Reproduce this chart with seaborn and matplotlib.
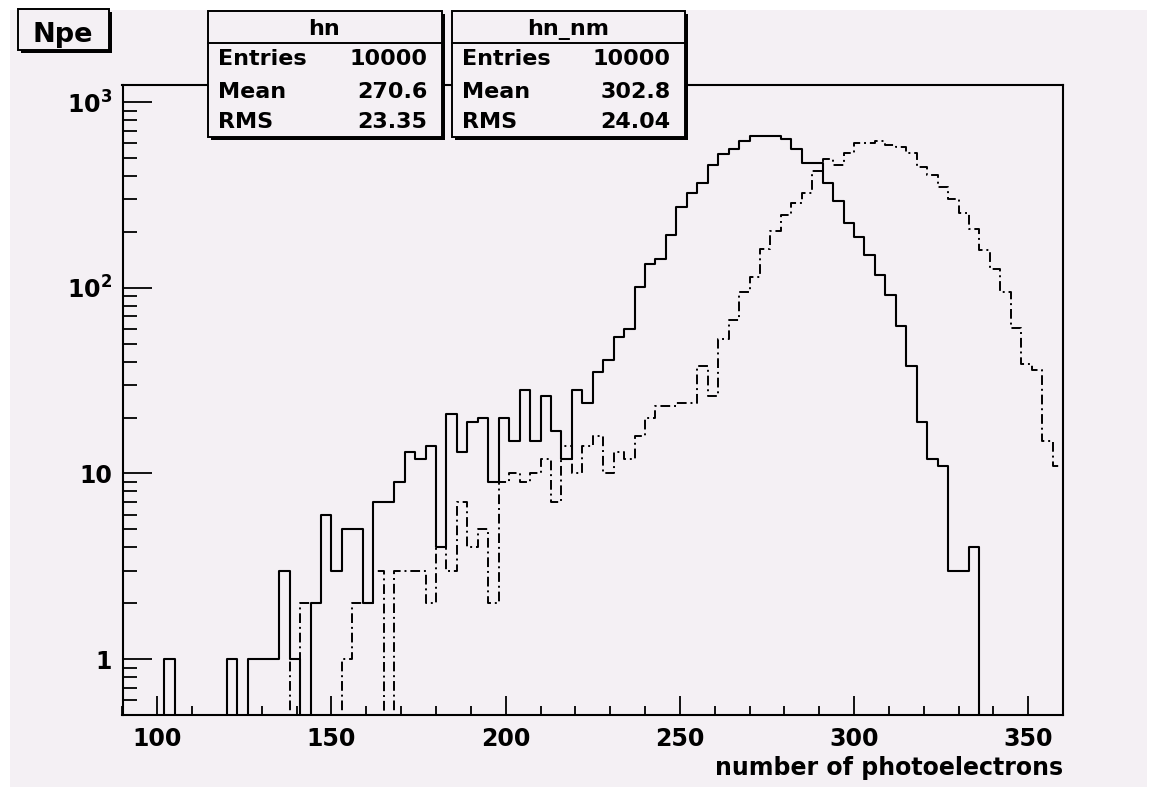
import numpy as np
import pandas as pd
import matplotlib
matplotlib.use("Agg")
import matplotlib.pyplot as plt
import seaborn as sns
from matplotlib.patches import Rectangle
from matplotlib.lines import Line2D
from matplotlib.ticker import FixedLocator, FixedFormatter, MultipleLocator, NullFormatter

# ---------------- data ----------------
x_min, x_max, n_bins = 90, 360, 90          # 90 bins of width 3
bin_centers = np.arange(x_min, x_max, 3) + 1.5

hn_counts = [0, 0, 0, 0, 1, 0, 0, 0, 0, 0,
             1, 0, 1, 1, 1, 3, 1, 0, 2, 6,
             3, 5, 5, 2, 7, 7, 9, 13, 12, 14,
             4, 21, 13, 19, 20, 9, 20, 15, 28, 15,
             26, 17, 12, 28, 24, 35, 41, 54, 60, 101,
             135, 142, 192, 271, 325, 368, 460, 522, 560, 615,
             655, 655, 655, 635, 556, 471, 471, 368, 294, 222,
             188, 150, 117, 91, 62, 38, 19, 12, 11, 3,
             3, 4, 0, 0, 0, 0, 0, 0, 0, 0]

hn_nm_counts = [0, 0, 0, 0, 0, 0, 0, 0, 0, 0,
                0, 0, 0, 0, 0, 0, 1, 2, 0, 0,
                0, 1, 2, 2, 3, 0, 3, 3, 3, 2,
                4, 3, 7, 4, 5, 2, 9, 10, 9, 10,
                12, 7, 14, 10, 14, 16, 10, 13, 12, 16,
                20, 23, 23, 24, 24, 38, 26, 53, 67, 95,
                114, 162, 203, 246, 287, 322, 425, 491, 458, 531,
                604, 604, 617, 590, 576, 529, 448, 404, 347, 300,
                251, 207, 160, 126, 95, 61, 39, 36, 15, 11]

x_ticks = [100, 150, 200, 250, 300, 350]
x_tick_labels = ["100", "150", "200", "250", "300", "350"]
y_ticks = [1, 10, 100, 1000]
y_tick_labels = ["1", "10", r"$\mathbf{10^{2}}$", r"$\mathbf{10^{3}}$"]

stat_names = ["Entries", "Mean", "RMS"]
hn_stats = ["10000", "270.6", "23.35"]
hn_nm_stats = ["10000", "302.8", "24.04"]

x_label = "number of photoelectrons"
title_text = "Npe"

# ---------------- style ----------------
W, H = 1164, 787
BG = "#f4f0f4"
sns.set_theme(style="white")
plt.rcParams["font.family"] = ["DejaVu Sans"]
plt.rcParams["font.weight"] = "bold"
plt.rcParams["mathtext.fontset"] = "dejavusans"
for key in ["text.color", "axes.labelcolor", "xtick.color", "ytick.color", "axes.edgecolor"]:
    plt.rcParams[key] = "black"

fig = plt.figure(figsize=(W / 100, H / 100), dpi=100)
fig.patch.set_facecolor("white")


def fx(x):
    return x / W


def fy(y):
    return 1 - y / H


# canvas (pinkish) with thin white margin on left / top / right
fig.add_artist(Rectangle((fx(9.5), 0), (1147 - 9.5) / W, (H - 10) / H,
                         transform=fig.transFigure, facecolor=BG, lw=0, zorder=-10))

FX0, FX1, FY0, FY1 = 122.5, 1063.0, 85.0, 715.0
ax = fig.add_axes([FX0 / W, 1 - FY1 / H, (FX1 - FX0) / W, (FY1 - FY0) / H])
ax.set_facecolor(BG)

df_hn = pd.DataFrame({"npe": bin_centers, "w": hn_counts})
df_nm = pd.DataFrame({"npe": bin_centers, "w": hn_nm_counts})

sns.histplot(data=df_hn, x="npe", weights="w", bins=n_bins, binrange=(x_min, x_max),
             element="step", fill=False, color="black", linewidth=1.5, ax=ax)
sns.histplot(data=df_nm, x="npe", weights="w", bins=n_bins, binrange=(x_min, x_max),
             element="step", fill=False, color="black", linewidth=1.4,
             linestyle=(0, (5, 2.0, 1, 2.0)), ax=ax)

ax.set_yscale("log")
ax.set_xlim(x_min, x_max)
ax.set_ylim(0.5, 1235)
ax.set_xlabel("")
ax.set_ylabel("")

for s in ax.spines.values():
    s.set_linewidth(1.5)
    s.set_color("black")

ax.xaxis.set_major_locator(FixedLocator(x_ticks))
ax.xaxis.set_major_formatter(FixedFormatter(x_tick_labels))
ax.xaxis.set_minor_locator(MultipleLocator(10))
ax.yaxis.set_major_locator(FixedLocator(y_ticks))
ax.yaxis.set_major_formatter(FixedFormatter(y_tick_labels))
minor_y = [m * 10 ** e for e in range(-1, 4) for m in range(2, 10)]
ax.yaxis.set_minor_locator(FixedLocator(minor_y))
ax.yaxis.set_minor_formatter(NullFormatter())

ax.tick_params(axis="x", which="major", direction="in", length=13.7, width=1.3,
               pad=8.5, labelsize=17, bottom=True, top=False, colors="black")
ax.tick_params(axis="x", which="minor", direction="in", length=6.8, width=1.3,
               bottom=True, top=False, colors="black")
ax.tick_params(axis="y", which="major", direction="in", length=20.9, width=1.3,
               pad=7.5, labelsize=17, left=True, right=False, colors="black")
ax.tick_params(axis="y", which="minor", direction="in", length=10.4, width=1.3,
               left=True, right=False, colors="black")
for lab in ax.get_xticklabels() + ax.get_yticklabels():
    lab.set_fontweight("bold")
    lab.set_color("black")

fig.text(FX1 / W, 1 - 775 / H, x_label, ha="right", va="baseline",
         fontsize=17, fontweight="bold", color="black")


# ---------------- boxes ----------------
def box(x0, y0, x1, y1, shadow=3.0):
    fig.add_artist(Rectangle((fx(x0 + shadow), fy(y1 + shadow)), (x1 - x0) / W, (y1 - y0) / H,
                             transform=fig.transFigure, facecolor="black",
                             edgecolor="black", lw=0, zorder=5))
    fig.add_artist(Rectangle((fx(x0), fy(y1)), (x1 - x0) / W, (y1 - y0) / H,
                             transform=fig.transFigure, facecolor=BG,
                             edgecolor="black", lw=1.4, zorder=6))


# title box
box(17.5, 9.5, 109, 50)
fig.text(fx(63), fy(41.5), title_text, ha="center", va="baseline",
         fontsize=19.5, fontweight="bold", color="black", zorder=7)


def stats_box(x0, x1, name, values):
    y0, y1, ysep = 11.0, 137.0, 42.7
    box(x0, y0, x1, y1)
    fig.add_artist(Line2D([fx(x0), fx(x1)], [fy(ysep), fy(ysep)],
                          transform=fig.transFigure, color="black", lw=1.4, zorder=7))
    fig.text(fx((x0 + x1) / 2), fy(35), name, ha="center", va="baseline",
             fontsize=16, fontweight="bold", color="black", zorder=7)
    for lbl, val, yb in zip(stat_names, values, [65, 97.5, 128.5]):
        fig.text(fx(x0 + 10), fy(yb), lbl, ha="left", va="baseline",
                 fontsize=16, fontweight="bold", color="black", zorder=7)
        fig.text(fx(x1 - 14), fy(yb), val, ha="right", va="baseline",
                 fontsize=16, fontweight="bold", color="black", zorder=7)


stats_box(207.5, 441.5, "hn", hn_stats)
stats_box(452.0, 684.5, "hn_nm", hn_nm_stats)

fig.savefig("out.png", dpi=100, facecolor="white")
